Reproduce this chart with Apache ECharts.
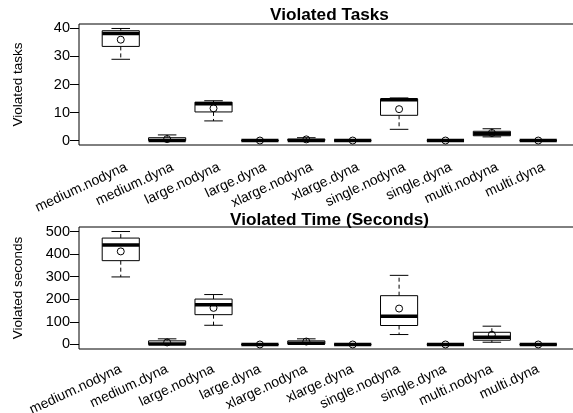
<!DOCTYPE html>
<html>
<head>
<meta charset="utf-8">
<script src="https://cdn.jsdelivr.net/npm/echarts@6/dist/echarts.min.js"></script>
<style>
  html, body { margin: 0; padding: 0; background: #fff; }
  #main { width: 573px; height: 413px; }
</style>
</head>
<body>
<div id="main"></div>
<script>
// categories on the x axis
var categories = ['medium.nodyna', 'medium.dyna', 'large.nodyna', 'large.dyna', 'xlarge.nodyna',
  'xlarge.dyna', 'single.nodyna', 'single.dyna', 'multi.nodyna', 'multi.dyna']

// box stats per category: [min, q1, median, q3, max], plus means
var tasksBox = [
  [29, 33.6, 38.2, 39.2, 40],
  [0, 0, 0, 1, 2],
  [7, 10.2, 13.1, 13.7, 14.2],
  [0, 0, 0, 0, 0],
  [0, 0, 0, 0.5, 1],
  [0, 0, 0, 0, 0],
  [4, 9, 14.6, 14.8, 15.2],
  [0, 0, 0, 0, 0],
  [1.3, 1.7, 2.4, 3.3, 4.2],
  [0, 0, 0, 0, 0]
]
var tasksMean = [36, 0.5, 11.5, 0, 0.4, 0, 11.2, 0, 2.7, 0]

var secondsBox = [
  [299, 371, 440, 471, 500],
  [0, 0, 2, 16, 25],
  [85, 132, 176, 201, 221],
  [0, 0, 0, 0, 0],
  [0, 2, 5, 16, 25],
  [0, 0, 0, 0, 0],
  [44, 84, 125, 216, 306],
  [0, 0, 0, 0, 0],
  [10, 19, 32, 54, 81],
  [0, 0, 0, 0, 0]
]
var secondsMean = [412, 9, 162, 0, 13, 0, 159, 0, 43, 0]

var tasksTicks = [0, 10, 20, 30, 40]
var secondsTicks = [0, 100, 200, 300, 400, 500]

var font = 'Liberation Sans, Arial, sans-serif'

function rows (box, mean) {
  return box.map(function (b, i) { return [i + 1].concat(b).concat([mean[i]]) })
}

function renderBox (params, api) {
  var x = api.value(0)
  var halfW = api.size([0.8, 0])[0] / 2
  var capW = halfW / 2
  var pMin = api.coord([x, api.value(1)])
  var pQ1 = api.coord([x, api.value(2)])
  var pMed = api.coord([x, api.value(3)])
  var pQ3 = api.coord([x, api.value(4)])
  var pMax = api.coord([x, api.value(5)])
  var pMean = api.coord([x, api.value(6)])
  var cx = pMin[0]
  var line = function (x1, y1, x2, y2, w, dash) {
    return { type: 'line', shape: { x1: x1, y1: y1, x2: x2, y2: y2 },
      style: { stroke: '#000', lineWidth: w, lineDash: dash || null } }
  }
  return {
    type: 'group',
    children: [
      line(cx, pQ3[1], cx, pMax[1], 1, [4, 3]),
      line(cx, pQ1[1], cx, pMin[1], 1, [4, 3]),
      line(cx - capW, pMax[1], cx + capW, pMax[1], 1),
      line(cx - capW, pMin[1], cx + capW, pMin[1], 1),
      { type: 'rect', shape: { x: cx - halfW, y: pQ3[1], width: halfW * 2, height: pQ1[1] - pQ3[1] },
        style: { fill: '#fff', stroke: '#000', lineWidth: 1 } },
      line(cx - halfW, pMed[1], cx + halfW, pMed[1], 3.5),
      { type: 'circle', shape: { cx: cx, cy: pMean[1], r: 3.5 },
        style: { fill: 'rgba(255,255,255,0)', stroke: '#000', lineWidth: 1 } }
    ]
  }
}

// labels sit a little right of / below the box centres, as in the reference
function xAxis (gridIndex, shift, margin) {
  return {
    type: 'value', gridIndex: gridIndex, min: 0.1, max: 10.9,
    axisLine: { show: false }, axisTick: { show: false }, splitLine: { show: false },
    axisLabel: {
      customValues: categories.map(function (c, i) { return i + 1 + shift }),
      formatter: function (v) { return categories[Math.round(v) - 1] },
      rotate: 25, margin: margin, color: '#000', fontSize: 14, fontFamily: font
    }
  }
}

function yAxis (gridIndex, name, min, max, ticks, gap) {
  return {
    type: 'value', gridIndex: gridIndex, min: min, max: max,
    name: name, nameLocation: 'middle', nameGap: gap,
    nameTextStyle: { color: '#000', fontSize: 13.5, fontFamily: font },
    axisLine: { show: false }, splitLine: { show: false },
    axisTick: { show: true, customValues: ticks, length: 9, lineStyle: { color: '#000' } },
    axisLabel: { customValues: ticks, color: '#000', fontSize: 14.5, fontFamily: font, margin: 9 }
  }
}

var gridBase = { left: 79, width: 501, show: true, borderColor: '#000', borderWidth: 1,
  backgroundColor: 'transparent', outerBoundsMode: 'none', containLabel: false }

var chart = echarts.init(document.getElementById('main'))
chart.setOption({
  animation: false,
  backgroundColor: '#fff',
  title: [
    { text: 'Violated Tasks', left: 329.5, textAlign: 'center', top: 7, padding: 0,
      textStyle: { fontSize: 17.2, fontWeight: 'bold', color: '#000', fontFamily: font } },
    { text: 'Violated Time (Seconds)', left: 329.5, textAlign: 'center', top: 212, padding: 0,
      textStyle: { fontSize: 17.2, fontWeight: 'bold', color: '#000', fontFamily: font } }
  ],
  grid: [
    Object.assign({ top: 24, height: 121 }, gridBase),
    Object.assign({ top: 227, height: 122 }, gridBase)
  ],
  xAxis: [xAxis(0, 0.12, 21.5), xAxis(1, 0, 19.5)],
  yAxis: [
    yAxis(0, 'Violated tasks', -1.6, 41.6, tasksTicks, 54),
    yAxis(1, 'Violated seconds', -20, 520, secondsTicks, 54)
  ],
  series: [
    { type: 'custom', xAxisIndex: 0, yAxisIndex: 0, renderItem: renderBox, data: rows(tasksBox, tasksMean) },
    { type: 'custom', xAxisIndex: 1, yAxisIndex: 1, renderItem: renderBox, data: rows(secondsBox, secondsMean) }
  ]
})
</script>
</body>
</html>
